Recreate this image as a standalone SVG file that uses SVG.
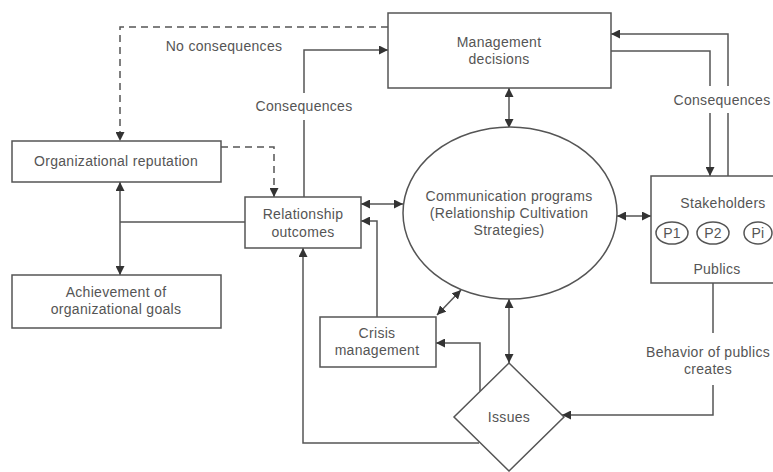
<svg xmlns="http://www.w3.org/2000/svg" width="773" height="472" viewBox="0 0 773 472">
<defs>
<marker id="ah" viewBox="0 0 10 10" refX="10" refY="5" markerWidth="9" markerHeight="9" markerUnits="userSpaceOnUse" orient="auto-start-reverse">
<path d="M0,0 L10,5 L0,10 z" fill="#333"/>
</marker>
<style>
.box{fill:#fff;stroke:#555;stroke-width:1.5}
.ln{fill:none;stroke:#555;stroke-width:1.5}
.dash{fill:none;stroke:#555;stroke-width:1.5;stroke-dasharray:7,5}
text{font-family:"Liberation Sans",Arial,sans-serif;font-size:14px;letter-spacing:0.3px;fill:#555;text-anchor:middle}
</style>
</defs>
<rect width="773" height="472" fill="#fff"/>
<g id="connectors">
<path class="dash" d="M388,27 H120 V141" marker-end="url(#ah)"/>
<path class="dash" d="M221,147 H274 V197" marker-end="url(#ah)"/>
<path class="ln" d="M304,197 V120"/>
<path class="ln" d="M304,93 V50 H388" marker-end="url(#ah)"/>
<path class="ln" d="M611,51 H710 V86"/>
<path class="ln" d="M710,113 V176" marker-end="url(#ah)"/>
<path class="ln" d="M728,176 V113"/>
<path class="ln" d="M728,86 V34 H611" marker-end="url(#ah)"/>
<path class="ln" d="M509,88 V128" marker-start="url(#ah)" marker-end="url(#ah)"/>
<path class="ln" d="M361,204 H403" marker-start="url(#ah)" marker-end="url(#ah)"/>
<path class="ln" d="M617,216 H651" marker-start="url(#ah)" marker-end="url(#ah)"/>
<path class="ln" d="M120,182 V275" marker-start="url(#ah)" marker-end="url(#ah)"/>
<path class="ln" d="M245,222 H120"/>
<path class="ln" d="M377,317 V221 H361" marker-end="url(#ah)"/>
<path class="ln" d="M479,443 H303 V248" marker-end="url(#ah)"/>
<path class="ln" d="M480,391 V343 H436" marker-end="url(#ah)"/>
<path class="ln" d="M437,315 L461,290" marker-start="url(#ah)" marker-end="url(#ah)"/>
<path class="ln" d="M509,299 V363" marker-start="url(#ah)" marker-end="url(#ah)"/>
<path class="ln" d="M713,283 V333"/>
<path class="ln" d="M713,385 V415 H562" marker-end="url(#ah)"/>
<text x="224" y="51">No consequences</text>
<text x="304" y="111">Consequences</text>
<text x="722" y="105">Consequences</text>
<text x="708" y="357">Behavior of publics</text>
<text x="708" y="374">creates</text>
</g>
<g id="management">
<rect class="box" x="388" y="13" width="223" height="75"/>
<text x="499" y="47">Management</text>
<text x="499" y="64">decisions</text>
</g>
<g id="reputation">
<rect class="box" x="12" y="141" width="209" height="41"/>
<text x="116" y="166">Organizational reputation</text>
</g>
<g id="goals">
<rect class="box" x="12" y="275" width="209" height="53"/>
<text x="116" y="297">Achievement of</text>
<text x="116" y="314">organizational goals</text>
</g>
<g id="relationship">
<rect class="box" x="245" y="197" width="116" height="51"/>
<text x="303" y="219">Relationship</text>
<text x="303" y="237">outcomes</text>
</g>
<g id="communication">
<ellipse class="box" cx="510" cy="213" rx="107" ry="86"/>
<text x="509" y="201">Communication programs</text>
<text x="509" y="218">(Relationship Cultivation</text>
<text x="509" y="235">Strategies)</text>
</g>
<g id="stakeholders">
<rect class="box" x="651" y="176" width="130" height="107"/>
<text x="723" y="208">Stakeholders</text>
<ellipse class="box" cx="672" cy="233" rx="16" ry="11"/>
<text x="672" y="238">P1</text>
<ellipse class="box" cx="713" cy="233" rx="16" ry="11"/>
<text x="713" y="238">P2</text>
<ellipse class="box" cx="758" cy="233" rx="14" ry="11"/>
<text x="758" y="238">Pi</text>
<text x="717" y="274">Publics</text>
</g>
<g id="crisis">
<rect class="box" x="320" y="317" width="116" height="50"/>
<text x="377" y="338">Crisis</text>
<text x="377" y="355">management</text>
</g>
<g id="issues">
<path class="box" d="M509,363 L564,417 L509,471 L454,417 Z"/>
<text x="509" y="422">Issues</text>
</g>
</svg>
